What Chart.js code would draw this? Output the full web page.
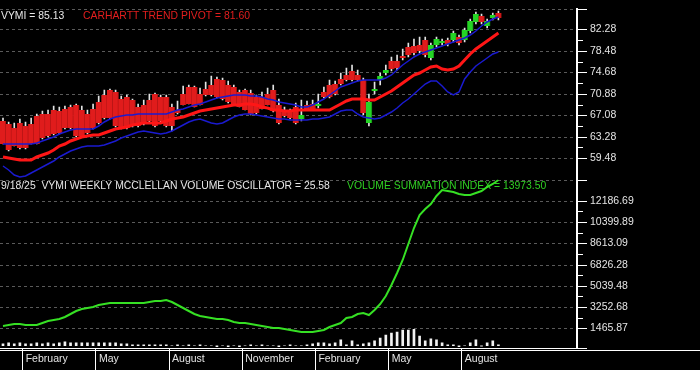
<!DOCTYPE html>
<html>
<head>
<meta charset="utf-8">
<script src="https://cdn.jsdelivr.net/npm/chart.js@4.4.1/dist/chart.umd.min.js"></script>
<style>
  html, body { margin: 0; padding: 0; background: #000; }
</style>
</head>
<body>
<canvas id="chart" width="700" height="370"></canvas>
<script>
// Weekly VYMI bars, first bar is the week of 2024-01-08
var firstWeek = '2024-01-08';

var open = [66.03,65.52,64.83,65.69,65.17,65.52,66.89,67.24,67.24,68.10,
            67.76,68.27,68.62,68.96,68.10,67.24,68.27,69.48,70.69,71.55,
            71.20,70.00,70.34,69.82,68.62,68.96,69.82,70.86,70.34,70.34,
            68.62,68.10,70.86,72.06,72.06,70.86,71.72,72.41,73.44,73.27,
            72.41,72.06,71.20,71.55,71.03,70.34,70.34,70.86,71.55,68.96,
            68.10,67.76,68.62,66.38,68.96,69.14,68.79,71.20,72.41,72.58,
            73.44,74.30,74.99,74.30,73.27,65.69,71.37,73.27,74.65,76.72,
            76.72,77.58,79.13,79.30,79.47,80.34,77.23,79.47,79.82,80.34,
            80.34,81.02,80.34,82.06,83.61,84.64,82.92,84.30,85.16];
var high = [66.55,65.86,65.69,66.38,65.86,66.55,67.24,67.76,68.10,68.79,
            68.62,68.79,68.96,69.14,68.79,68.10,69.14,70.52,71.55,71.72,
            71.55,70.52,70.69,69.99,69.14,69.82,70.86,71.03,70.69,70.69,
            69.14,69.65,72.24,72.41,72.24,71.89,72.93,73.96,73.79,73.61,
            73.10,72.41,71.55,71.72,71.55,70.69,71.20,71.89,72.41,69.99,
            68.62,68.27,69.31,69.82,69.65,69.82,70.86,72.06,73.27,73.10,
            74.65,75.51,76.03,75.17,73.61,70.86,72.93,74.65,76.03,77.41,
            77.75,78.79,79.82,80.51,80.86,80.86,79.82,81.02,80.51,80.69,
            82.06,81.37,82.58,84.12,85.33,84.99,84.12,85.16,85.50];
var low = [61.92,60.71,61.57,61.06,61.06,61.92,61.92,62.95,63.30,63.64,
           63.82,64.68,64.68,63.30,63.30,63.82,64.68,65.54,66.40,66.40,
           65.02,64.68,64.68,65.02,65.02,65.37,65.88,65.02,65.88,65.02,
           64.31,67.26,68.81,68.99,68.47,68.81,70.54,70.54,70.19,69.85,
           69.33,68.81,68.47,67.95,67.09,67.26,68.12,68.81,67.61,65.54,
           66.74,66.40,65.54,66.03,67.95,68.12,68.45,70.19,70.19,70.71,
           72.43,73.12,73.12,73.12,67.07,65.17,70.86,72.41,74.30,75.00,
           75.17,76.89,77.41,77.75,78.10,77.41,76.89,79.13,79.47,79.30,
           80.00,79.47,80.00,81.71,83.27,83.27,82.58,83.96,83.96];
var close = [62.07,60.86,61.72,61.21,61.21,62.07,62.07,63.10,63.45,63.79,
             63.97,64.83,64.83,63.45,63.45,63.97,64.83,65.69,66.55,66.55,
             65.17,64.83,64.83,65.17,65.17,65.52,66.03,65.17,66.03,65.17,
             65.17,67.41,68.96,69.14,68.62,68.96,70.69,70.69,70.34,70.00,
             69.48,68.96,68.62,68.10,67.24,67.41,68.27,68.96,67.76,65.69,
             66.89,66.55,65.69,67.07,68.10,68.27,69.14,70.34,70.34,70.86,
             72.58,73.27,73.27,73.27,67.41,69.48,71.72,73.96,75.17,75.34,
             75.51,77.23,77.75,78.10,78.44,77.75,79.47,80.51,80.16,79.65,
             81.71,79.82,82.23,83.78,84.99,83.61,83.78,84.82,84.30];

// Carhartt trend pivot and its upper / lower band
var pivot = [59.66,59.48,59.31,59.14,59.14,59.14,59.66,60.00,60.35,60.86,
             61.55,62.07,62.59,62.93,63.28,63.45,63.62,63.62,63.97,64.31,
             64.65,64.83,65.00,65.34,65.52,65.69,65.69,65.69,65.69,66.03,
             66.38,66.55,66.72,67.07,67.41,67.76,68.10,68.27,68.45,68.62,
             68.79,68.96,68.96,69.14,69.14,68.96,68.62,68.45,68.10,67.93,
             67.76,67.76,67.93,67.93,67.93,68.10,68.10,68.10,68.10,68.62,
             69.14,69.65,70.00,70.00,70.00,69.82,69.82,70.34,70.86,71.37,
             72.06,72.75,73.44,74.13,74.65,75.17,75.68,75.86,75.34,75.17,
             75.34,75.86,76.89,77.92,78.78,79.47,80.16,80.95,81.60];
var bandUpper = [62.07,62.07,62.07,62.07,62.07,62.07,62.24,62.59,62.93,63.28,
                 63.79,64.14,64.48,64.65,64.65,64.65,64.65,65.17,65.86,66.38,
                 66.72,66.89,67.07,67.07,67.24,67.24,67.24,67.24,67.24,67.24,
                 67.58,67.93,68.27,68.62,68.96,69.14,69.48,69.82,70.17,70.34,
                 70.51,70.69,70.69,70.69,70.51,70.51,70.34,70.00,69.82,69.48,
                 69.31,69.14,68.96,68.62,68.62,68.96,69.48,70.00,70.69,71.37,
                 72.06,72.41,72.75,73.10,73.27,73.27,73.27,73.27,73.61,74.30,
                 75.17,76.03,76.72,77.41,77.92,78.27,78.61,78.96,79.30,79.65,
                 79.99,80.34,80.85,81.37,82.06,82.92,83.61,84.13,84.47];
var bandLower = [58.11,57.42,56.56,56.21,56.38,56.90,57.42,57.93,58.45,58.97,
                 59.66,60.17,60.69,61.04,61.38,61.55,61.72,61.72,61.90,62.24,
                 62.59,63.10,63.45,63.79,64.14,64.31,64.14,63.97,63.79,63.97,
                 64.31,64.83,65.34,65.86,66.21,66.38,66.03,65.69,65.52,65.69,
                 66.21,66.72,67.07,67.24,67.24,67.07,66.89,66.72,66.55,66.38,
                 66.38,66.21,66.21,66.21,66.21,66.38,66.38,66.55,66.72,67.24,
                 67.76,68.10,67.93,67.24,66.72,66.55,66.38,66.55,67.07,67.58,
                 68.45,69.31,70.00,70.86,71.72,72.58,73.10,73.10,72.24,71.20,
                 70.69,71.20,73.44,74.82,75.86,76.54,77.23,77.92,78.27];

// lower panel
var volSummation = [1693,1775,1857,1857,1775,1775,1775,1939,2102,2184,
                    2266,2430,2675,2921,3085,3167,3249,3412,3494,3576,
                    3576,3576,3576,3576,3576,3576,3658,3740,3740,3822,
                    3658,3412,3167,2921,2675,2512,2430,2348,2266,2266,
                    2184,2020,1939,1939,1857,1775,1693,1611,1529,1529,
                    1447,1366,1202,1120,1120,1120,1202,1366,1611,1775,
                    1939,2348,2430,2675,2757,2594,3003,3494,4149,5132,
                    6114,7178,8570,9880,11026,11517,11927,12582,13073,12991,
                    12909,12745,12664,12664,12827,12991,13319,13564,13973.5];
var volOscillator = [50,75,50,75,50,50,75,50,75,50,
                     75,100,75,75,75,75,75,75,75,75,
                     75,50,50,25,25,25,25,25,25,25,
                     0,25,0,25,0,25,0,0,-25,0,
                     -25,0,-25,0,25,0,25,0,0,-25,
                     0,25,0,0,25,50,75,75,50,75,
                     150,25,125,25,50,75,125,200,275,325,
                     350,400,400,425,250,125,175,150,75,25,
                     25,-25,0,75,150,-10,75,125,25.58];

var priceTicks = ['59.48','63.28','67.08','70.88','74.68','78.48','82.28'];
var vsiTicks = ['1465.87','3252.68','5039.48','6826.28','8613.09','10399.89','12186.69'];
var monthNames = ['January','February','March','April','May','June','July',
                  'August','September','October','November','December'];
var labeledMonths = ['February','May','August','November'];

var titleLeft = 'VYMI = 85.13';
var titlePivot = 'CARHARTT TREND PIVOT = 81.60';
var titleOsc = '9/18/25  VYMI WEEKLY MCCLELLAN VOLUME OSCILLATOR = 25.58';
var titleVsi = 'VOLUME SUMMATION INDEX = 13973.50';

var FONT = '"Liberation Sans", Arial, sans-serif';

function pts(arr) {
    return arr.map(function (v, i) { return { x: i, y: v }; });
}

// month separators sit between the last week of one month and the first of the next
var monthTicks = [];
var t0 = new Date(firstWeek + 'T00:00:00Z').getTime();
for (var i = 1; i < close.length; i++) {
    var m0 = new Date(t0 + (i - 1) * 7 * 86400000).getUTCMonth();
    var m1 = new Date(t0 + i * 7 * 86400000).getUTCMonth();
    if (m0 !== m1 && labeledMonths.indexOf(monthNames[m1]) >= 0) {
        monthTicks.push({ value: i - 0.5, lbl: monthNames[m1] });
    }
}

var bodies = open.map(function (o, i) { return { x: i, y: [o, close[i]] }; });
var wicks = low.map(function (l, i) { return { x: i, y: [l, high[i]] }; });

function isUp(ctx) {
    var i = ctx.dataIndex;
    return close[i] >= open[i];
}

function majorTicks(labels, lo, hi) {
    var out = [{ value: lo, lbl: '' }];
    labels.forEach(function (s) { out.push({ value: parseFloat(s), lbl: s }); });
    out.push({ value: hi, lbl: '' });
    return out;
}

function yAxis(min, max, labels, weight) {
    return {
        type: 'linear',
        position: 'right',
        stack: 'panels',
        stackWeight: weight,
        min: min,
        max: max,
        alignToPixels: true,
        afterBuildTicks: function (s) {
            s.ticks = majorTicks(labels, s.min, s.max);
        },
        afterFit: function (s) { s.width = 123; },
        ticks: {
            autoSkip: false,
            padding: 3,
            color: '#e4e4e4',
            font: { size: 10.5, family: FONT },
            callback: function (v, idx, ticks) { return ticks[idx].lbl; }
        },
        grid: {
            color: '#5a5a5a',
            lineWidth: 1,
            tickLength: 10,
            tickColor: '#ffffff',
            tickWidth: 1
        },
        border: { color: '#ffffff', width: 2, dash: [3, 3] }
    };
}

var panelDecor = {
    id: 'panelDecor',
    beforeDatasetsDraw: function (chart) {
        var c = chart.ctx;
        var yp = chart.scales.yPrice, yv = chart.scales.yVsi;
        c.save();
        c.font = '10.4px ' + FONT;
        c.textBaseline = 'middle';
        c.fillStyle = '#e8e8e8';
        c.fillText(titleLeft, 1, yp.top + 7);
        c.fillStyle = '#e41e1e';
        c.fillText(titlePivot, 83, yp.top + 7);
        c.fillStyle = '#e8e8e8';
        c.fillText(titleOsc, 1, yv.top + 7);
        c.fillStyle = '#2fcf22';
        c.fillText(titleVsi, 347, yv.top + 7);
        c.restore();
    },
    afterDraw: function (chart) {
        var c = chart.ctx;
        c.save();
        c.strokeStyle = '#ffffff';
        c.lineWidth = 1;
        c.beginPath();
        ['yPrice', 'yVsi'].forEach(function (id) {
            var s = chart.scales[id];
            var vals = s.ticks.filter(function (t) { return t.lbl; }).map(function (t) { return t.value; });
            for (var k = 1; k < vals.length; k++) {
                var y = Math.round(s.getPixelForValue((vals[k] + vals[k - 1]) / 2)) + 0.5;
                c.moveTo(s.left, y);
                c.lineTo(s.left + 6, y);
            }
        });
        var xb = chart.scales.x.top + 2.5;
        c.moveTo(0, xb);
        c.lineTo(chart.width, xb);
        c.stroke();
        c.restore();
    }
};

var chart = new Chart(document.getElementById('chart'), {
    type: 'bar',
    data: {
        datasets: [
            { type: 'line', data: pts(pivot), yAxisID: 'yPrice', borderColor: '#ff1616', borderWidth: 3, pointRadius: 0, order: 0 },
            { type: 'line', data: pts(bandUpper), yAxisID: 'yPrice', borderColor: '#1a1ad0', borderWidth: 1.5, pointRadius: 0, order: 0 },
            { type: 'line', data: pts(bandLower), yAxisID: 'yPrice', borderColor: '#1a1ad0', borderWidth: 1.5, pointRadius: 0, order: 0 },
            { type: 'line', data: pts(volSummation), yAxisID: 'yVsi', borderColor: '#36e024', borderWidth: 2, pointRadius: 0, order: 0 },
            {
                data: bodies, yAxisID: 'yPrice', grouped: false, barThickness: 6, order: 1,
                backgroundColor: function (ctx) { return isUp(ctx) ? '#25d425' : '#e01c1c'; },
                borderColor: function (ctx) { return isUp(ctx) ? '#149014' : '#981010'; },
                borderWidth: { left: 0, right: 1, top: 0, bottom: 0 }
            },
            { data: wicks, yAxisID: 'yPrice', grouped: false, barThickness: 1, backgroundColor: '#e2e2e2', order: 2 },
            { data: pts(volOscillator), yAxisID: 'yOsc', grouped: false, barThickness: 2, backgroundColor: '#f2f2f2', order: 2 }
        ]
    },
    options: {
        responsive: false,
        animation: false,
        devicePixelRatio: 1,
        layout: { padding: 0, autoPadding: false },
        plugins: { legend: { display: false }, tooltip: { enabled: false } },
        scales: {
            x: {
                type: 'linear',
                position: 'bottom',
                min: -0.533,
                max: 101.96,
                offset: false,
                afterBuildTicks: function (s) {
                    s.ticks = monthTicks.map(function (t) { return { value: t.value, lbl: t.lbl }; });
                },
                afterFit: function (s) { s.height = 22; },
                ticks: {
                    autoSkip: false,
                    maxRotation: 0,
                    align: 'start',
                    labelOffset: 3,
                    padding: -17,
                    color: '#e4e4e4',
                    font: { size: 10.5, family: FONT },
                    callback: function (v, idx, ticks) { return ticks[idx].lbl; }
                },
                grid: {
                    offset: false,
                    drawOnChartArea: false,
                    tickLength: 22,
                    tickColor: '#ffffff',
                    tickWidth: 1
                },
                border: { color: '#ffffff', width: 1 }
            },
            yPrice: yAxis(55.68, 85.85, priceTicks, 175),
            yVsi: yAxis(-190, 13973.5, vsiTicks, 173),
            yOsc: { type: 'linear', display: false, position: 'right', min: -57.5, max: 8642.5 }
        }
    },
    plugins: [panelDecor]
});
</script>
</body>
</html>
